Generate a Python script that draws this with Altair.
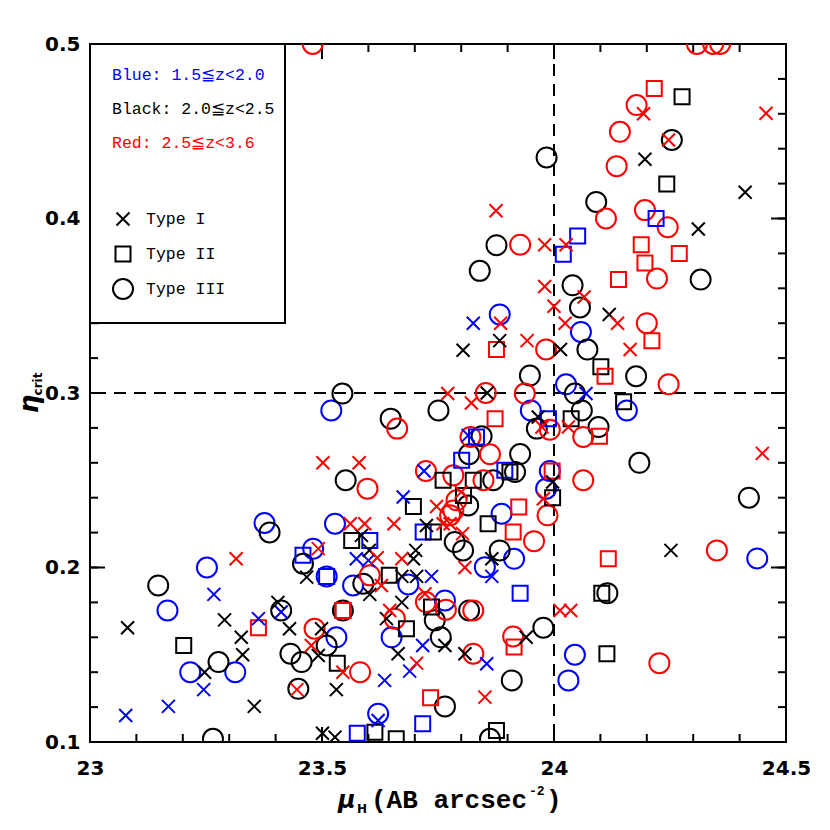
import altair as alt
import pandas as pd

# ---------------- data ----------------
blue_I_x = [23.826, 23.815, 24.069, 23.72, 23.675, 23.574, 23.60, 23.866, 23.736, 23.717,
            23.689, 23.635, 23.855, 23.621, 23.267, 23.363, 23.245, 23.169, 23.077, 23.412]
blue_I_y = [0.340, 0.2757, 0.2997, 0.2553, 0.2404, 0.205, 0.2041, 0.1949, 0.1949, 0.1553,
            0.1406, 0.1353, 0.1448, 0.1123, 0.1846, 0.1707, 0.130, 0.1204, 0.1152, 0.1745]

blue_II_x = [24.22, 24.051, 24.02, 23.988, 23.833, 23.801, 23.894, 23.718, 23.603, 23.51,
             23.927, 23.717, 23.576, 23.459]
blue_II_y = [0.400, 0.390, 0.3795, 0.2853, 0.2748, 0.2614, 0.2557, 0.2203, 0.2155, 0.1949,
             0.1853, 0.1104, 0.105, 0.207]

blue_III_x = [23.883, 24.058, 24.026, 24.157, 23.95, 23.52, 23.991, 23.983, 23.887, 23.914,
              23.851, 24.045, 24.031, 24.438, 23.528, 23.481, 23.51, 23.567, 23.686, 23.765,
              23.65, 23.531, 23.621, 23.376, 23.252, 23.167, 23.216, 23.313]
blue_III_y = [0.345, 0.335, 0.305, 0.290, 0.290, 0.290, 0.2553, 0.2452, 0.2308, 0.205,
              0.2002, 0.150, 0.1353, 0.2052, 0.2251, 0.2108, 0.1949, 0.1897, 0.1903, 0.1811,
              0.160, 0.160, 0.1162, 0.2255, 0.200, 0.1754, 0.140, 0.140]

black_I_x = [24.196, 24.311, 24.412, 24.252, 24.119, 24.014, 23.966, 23.997, 23.94, 23.883,
             23.804, 23.856, 23.725, 23.585, 23.602, 23.702, 23.697, 23.866, 23.467, 23.672,
             23.704, 23.603, 23.672, 23.639, 23.499, 23.492, 23.765, 23.664, 23.808, 23.531,
             23.501, 23.528, 23.29, 23.081, 23.326, 23.329, 23.247, 23.354, 23.405, 23.43]
black_I_y = [0.434, 0.394, 0.415, 0.2098, 0.345, 0.3249, 0.2862, 0.249, 0.160, 0.330,
             0.3245, 0.300, 0.2241, 0.2184, 0.2098, 0.2098, 0.205, 0.205, 0.1945, 0.1949,
             0.1949, 0.1846, 0.180, 0.1707, 0.1649, 0.1496, 0.1553, 0.1506, 0.1506, 0.130,
             0.105, 0.1028, 0.170, 0.1655, 0.160, 0.150, 0.140, 0.1204, 0.180, 0.1649]

black_II_x = [24.276, 24.243, 24.101, 24.15, 24.037, 23.997, 24.103, 24.114, 23.905, 23.761,
              23.826, 23.697, 23.805, 23.858, 23.74, 23.564, 23.645, 23.736, 23.545, 23.682,
              23.533, 23.614, 23.66, 23.876, 23.202]
black_II_y = [0.4697, 0.4197, 0.315, 0.295, 0.2853, 0.240, 0.1853, 0.1506, 0.2547, 0.250,
              0.250, 0.235, 0.2413, 0.2251, 0.2203, 0.2155, 0.1955, 0.1773, 0.1754, 0.1649,
              0.1452, 0.1056, 0.1018, 0.1066, 0.1553]

black_III_x = [23.984, 24.254, 24.091, 24.316, 24.04, 24.056, 24.072, 23.948, 24.177, 24.045,
               24.06, 23.963, 24.096, 23.927, 23.916, 24.184, 24.115, 23.977, 23.909, 24.42,
               23.876, 23.84, 23.544, 23.751, 23.648, 23.844, 23.817, 23.551, 23.869, 23.815,
               23.786, 23.804, 23.883, 23.459, 23.589, 23.817, 23.743, 23.756, 23.51, 23.456,
               23.765, 23.862, 23.387, 23.147, 23.277, 23.265, 23.412, 23.432, 23.449, 23.545]
black_III_y = [0.435, 0.445, 0.4095, 0.365, 0.3617, 0.349, 0.3249, 0.310, 0.3096, 0.2997,
               0.290, 0.2796, 0.2805, 0.265, 0.2547, 0.260, 0.1853, 0.1655, 0.1353, 0.240,
               0.3847, 0.370, 0.2997, 0.290, 0.2853, 0.2752, 0.2649, 0.250, 0.250, 0.2356,
               0.2146, 0.2098, 0.2098, 0.2022, 0.1907, 0.1754, 0.1697, 0.160, 0.1553, 0.1458,
               0.1204, 0.1018, 0.2201, 0.1897, 0.1458, 0.1018, 0.1754, 0.1506, 0.1305, 0.1754]

red_I_x = [24.457, 24.193, 24.247, 23.98, 24.026, 23.98, 24.065, 24.0, 24.137, 24.024,
           23.942, 24.164, 23.974, 24.031, 23.977, 24.013, 24.036, 24.449, 23.875, 23.885,
           23.771, 23.822, 23.502, 23.58, 23.747, 23.8, 23.776, 23.803, 23.761, 23.561,
           23.592, 23.655, 23.619, 23.492, 23.672, 23.808, 23.628, 23.722, 23.646, 23.477,
           23.545, 23.704, 23.851, 23.315, 23.446]
red_I_y = [0.4603, 0.460, 0.445, 0.385, 0.385, 0.361, 0.355, 0.3497, 0.340, 0.340,
           0.330, 0.3249, 0.2805, 0.2805, 0.2394, 0.1754, 0.1754, 0.2654, 0.4044, 0.340,
           0.2997, 0.2943, 0.260, 0.260, 0.235, 0.2432, 0.2251, 0.2194, 0.2251, 0.2251,
           0.2251, 0.2251, 0.2056, 0.2108, 0.205, 0.200, 0.1897, 0.185, 0.1754, 0.1553,
           0.140, 0.1452, 0.1257, 0.205, 0.130]

red_II_x = [24.216, 24.188, 24.27, 24.196, 24.139, 24.211, 24.11, 24.098, 23.996, 23.924,
            23.912, 24.117, 23.914, 23.876, 23.873, 23.545, 23.734, 23.363]
red_II_y = [0.4745, 0.385, 0.380, 0.3745, 0.365, 0.330, 0.3096, 0.2752, 0.2553, 0.2346,
            0.2203, 0.205, 0.1544, 0.3249, 0.2853, 0.1754, 0.1253, 0.1655]

red_III_x = [23.48, 24.308, 24.343, 24.358, 24.178, 24.142, 24.135, 24.112, 24.196, 24.245,
             23.927, 24.222, 24.2, 23.983, 24.247, 23.937, 23.991, 24.063, 24.063, 23.986,
             23.957, 24.351, 23.912, 24.227, 23.853, 23.662, 23.82, 23.862, 23.724, 23.598,
             23.783, 23.848, 23.79, 23.783, 23.776, 23.603, 23.724, 23.767, 23.826, 23.657,
             23.484, 23.582, 23.826]
red_III_y = [0.500, 0.500, 0.500, 0.500, 0.465, 0.4497, 0.430, 0.400, 0.4048, 0.395,
             0.385, 0.3656, 0.340, 0.325, 0.305, 0.2997, 0.279, 0.2748, 0.250, 0.2299,
             0.2151, 0.2098, 0.1605, 0.1452, 0.300, 0.2796, 0.2748, 0.2649, 0.2553, 0.2452,
             0.2528, 0.250, 0.2385, 0.2327, 0.230, 0.1955, 0.1802, 0.1758, 0.1754, 0.1707,
             0.1649, 0.140, 0.1506]

x_labels = [23, 23.5, 24, 24.5]
y_labels = [0.1, 0.2, 0.3, 0.4, 0.5]
x_cut = [24.0]
y_cut = [0.3]

legend_lines = ["Blue: 1.5\u2266z<2.0", "Black: 2.0\u2266z<2.5", "Red: 2.5\u2266z<3.6"]
type_names = ["Type I", "Type II", "Type III"]

# ---------------- build table ----------------
groups = [
    ("blue", "I", blue_I_x, blue_I_y), ("blue", "II", blue_II_x, blue_II_y), ("blue", "III", blue_III_x, blue_III_y),
    ("black", "I", black_I_x, black_I_y), ("black", "II", black_II_x, black_II_y), ("black", "III", black_III_x, black_III_y),
    ("red", "I", red_I_x, red_I_y), ("red", "II", red_II_x, red_II_y), ("red", "III", red_III_x, red_III_y),
]
rows = []
for c, t, xs, ys in groups:
    for a, b in zip(xs, ys):
        rows.append({"mu": a, "eta": b, "zbin": c, "type": t})
df = pd.DataFrame(rows)

W, H = 696, 698
XPATH = "M-1,-1L1,1M-1,1L1,-1"

xscale = alt.Scale(domain=[23, 24.5], nice=False, zero=False)
yscale = alt.Scale(domain=[0.1, 0.5], nice=False, zero=False)
cscale = alt.Scale(domain=["blue", "black", "red"], range=["#0000ff", "#000000", "#ff0000"])

xaxis = alt.Axis(values=x_labels, format=".1~f", ticks=False, domain=False, grid=False, title=None,
                 labelFont="DejaVu Sans", labelFontWeight="bold", labelFontSize=20, labelColor="black",
                 labelPadding=16, labelFlush=False)
yaxis = alt.Axis(values=y_labels, format=".1f", ticks=False, domain=False, grid=False, title=None,
                 labelFont="DejaVu Sans", labelFontWeight="bold", labelFontSize=20, labelColor="black",
                 labelPadding=10, labelFlush=False)


def X(f):
    return alt.X(f, type="quantitative", scale=xscale, axis=xaxis)


def Y(f):
    return alt.Y(f, type="quantitative", scale=yscale, axis=yaxis)


def points(t, shape, size):
    return alt.Chart(df[df["type"] == t]).mark_point(
        shape=shape, size=size, filled=False, strokeWidth=2, opacity=1, clip=True
    ).encode(x=X("mu"), y=Y("eta"), color=alt.Color("zbin:N", scale=cscale, legend=None))


# ticks (inward, on all four sides)
x_minor = [round(23 + 0.1 * i, 2) for i in range(16)]
x_major = [v for v in x_minor if abs(v * 2 - round(v * 2)) < 1e-6]
y_minor = [round(0.1 + 0.02 * i, 3) for i in range(21)]
y_major = [v for v in y_minor if abs(v * 10 - round(v * 10)) < 1e-6]

def xticks(vals, L):
    d = pd.DataFrame({"v": vals})
    b = alt.Chart(d).mark_rule(color="black", strokeWidth=2)
    return [b.encode(x=X("v"), y=alt.value(H), y2=alt.value(H - L)),
            b.encode(x=X("v"), y=alt.value(0), y2=alt.value(L))]

def yticks(vals, L):
    d = pd.DataFrame({"v": vals})
    b = alt.Chart(d).mark_rule(color="black", strokeWidth=2)
    return [b.encode(y=Y("v"), x=alt.value(0), x2=alt.value(L)),
            b.encode(y=Y("v"), x=alt.value(W), x2=alt.value(W - L))]

ticks = xticks(x_minor, 8) + xticks(x_major, 15) + yticks(y_minor, 8) + yticks(y_major, 15)

vline = alt.Chart(pd.DataFrame({"v": x_cut})).mark_rule(color="black", strokeWidth=2, strokeDash=[12, 8]).encode(x=X("v"))
hline = alt.Chart(pd.DataFrame({"v": y_cut})).mark_rule(color="black", strokeWidth=2, strokeDash=[12, 8]).encode(y=Y("v"))

one = pd.DataFrame({"k": [0]})

legend_box = alt.Chart(one).mark_rect(fill="white", stroke="black", strokeWidth=2).encode(
    x=alt.value(0), x2=alt.value(195), y=alt.value(0), y2=alt.value(279))

LFONT = "Liberation Mono"
legend_txt = []
for i, (s, col) in enumerate(zip(legend_lines, ["#0000ff", "#000000", "#ff0000"])):
    legend_txt.append(alt.Chart(one).mark_text(text=s, font=LFONT, fontSize=16.5, color=col, align="left",
                                               baseline="middle").encode(x=alt.value(22), y=alt.value(31 + 34 * i)))
for i, s in enumerate(type_names):
    legend_txt.append(alt.Chart(one).mark_text(text=s, font=LFONT, fontSize=16.5, color="black", align="left",
                                               baseline="middle").encode(x=alt.value(56), y=alt.value(175 + 35 * i)))
legend_sym = [
    alt.Chart(one).mark_point(shape=XPATH, size=169, filled=False, strokeWidth=2, color="black", opacity=1).encode(
        x=alt.value(33), y=alt.value(175)),
    alt.Chart(one).mark_point(shape="square", size=225, filled=False, strokeWidth=2, color="black", opacity=1).encode(
        x=alt.value(33), y=alt.value(210)),
    alt.Chart(one).mark_point(shape="circle", size=400, filled=False, strokeWidth=2, color="black", opacity=1).encode(
        x=alt.value(33), y=alt.value(245)),
]

# axis titles (composed so that sub/superscripts are real text)
TF = "Liberation Mono"
titles = [
    alt.Chart(one).mark_text(text="\u03bc", font="DejaVu Sans", fontSize=24, fontWeight="bold", fontStyle="italic",
                             align="left", baseline="alphabetic").encode(x=alt.value(248), y=alt.value(764)),
    alt.Chart(one).mark_text(text="H", font="DejaVu Sans", fontSize=12, fontWeight="bold",
                             align="left", baseline="alphabetic").encode(x=alt.value(267), y=alt.value(769)),
    alt.Chart(one).mark_text(text="(AB arcsec", font=TF, fontSize=26, fontWeight="bold",
                             align="left", baseline="alphabetic").encode(x=alt.value(281), y=alt.value(764)),
    alt.Chart(one).mark_text(text="-2", font=TF, fontSize=13, fontWeight="bold",
                             align="left", baseline="alphabetic").encode(x=alt.value(439), y=alt.value(751)),
    alt.Chart(one).mark_text(text=")", font=TF, fontSize=26, fontWeight="bold",
                             align="left", baseline="alphabetic").encode(x=alt.value(456), y=alt.value(764)),
    alt.Chart(one).mark_text(text="\u03b7", font="DejaVu Sans", fontSize=26, fontWeight="bold", fontStyle="italic",
                             angle=270, align="center", baseline="middle").encode(x=alt.value(-60), y=alt.value(360)),
    alt.Chart(one).mark_text(text="crit", font="DejaVu Sans", fontSize=12, fontWeight="bold",
                             angle=270, align="center", baseline="middle").encode(x=alt.value(-52), y=alt.value(340)),
]

chart = alt.layer(
    *ticks, vline, hline,
    points("III", "circle", 400),
    points("II", "square", 225),
    points("I", XPATH, 169),
    legend_box, *legend_sym, *legend_txt, *titles,
).properties(
    width=W, height=H,
    autosize=alt.AutoSizeParams(type="none"),
    padding={"left": 82, "top": 36, "right": 30, "bottom": 80},
    background="white",
).configure_view(stroke="black", strokeWidth=2)

chart.save("out.html", embed_options={"renderer": "svg", "actions": False})
